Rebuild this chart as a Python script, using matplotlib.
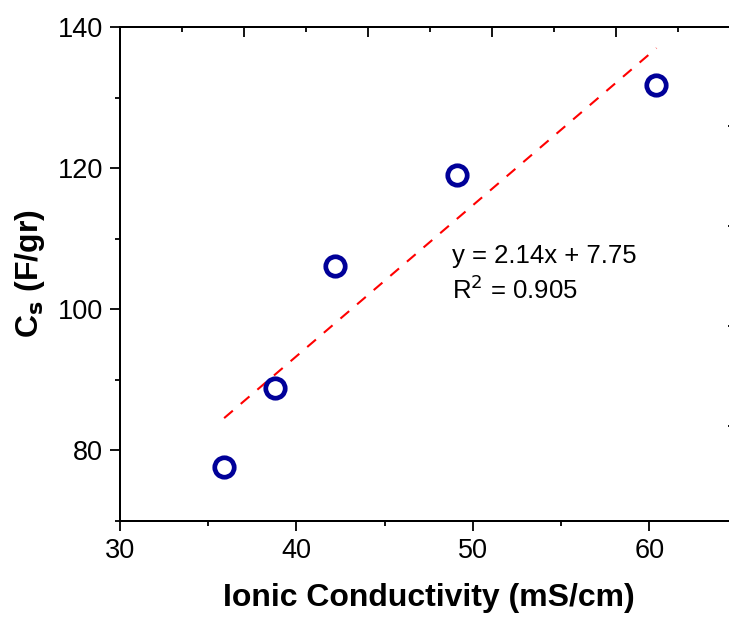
import numpy as np
import matplotlib
matplotlib.use('Agg')
from matplotlib import pyplot as plt
from matplotlib.ticker import MultipleLocator

plt.rcParams['font.family'] = ['Liberation Sans', 'DejaVu Sans']

# data
conductivity = [35.9, 38.8, 42.2, 49.1, 60.4]
capacitance = [77.6, 88.8, 106.2, 119.0, 131.8]
slope = 2.14
intercept = 7.75
r2 = 0.905

fig = plt.figure(figsize=(7.29, 6.2), dpi=100)
ax = fig.add_axes([0.1646, 0.1597, 0.8473, 0.7968])

# linear fit line
xfit = np.array([min(conductivity), max(conductivity)])
ax.plot(xfit, slope * xfit + intercept, color='#ff0000', lw=1.5,
        dashes=(5.5, 5), zorder=2)

ax.plot(conductivity, capacitance, 'o', ms=14, mfc='none', mec='#000099',
        mew=3.4, zorder=3)

ax.text(0.537, 0.44, 'y = %.2fx + %.2f\nR$^2$ = %.3f' % (slope, intercept, r2),
        transform=ax.transAxes, fontsize=18.5, va='bottom', ha='left',
        linespacing=1.3)

ax.set_xlim(30, 65)
ax.set_ylim(70, 140)
ax.xaxis.set_major_locator(MultipleLocator(10))
ax.xaxis.set_minor_locator(MultipleLocator(5))
ax.yaxis.set_major_locator(MultipleLocator(20))
ax.yaxis.set_minor_locator(MultipleLocator(10))
ax.tick_params(which='major', direction='out', length=7, width=1.3,
               labelsize=19.5, pad=5, top=False, right=False)
ax.tick_params(which='minor', direction='out', length=3.5, width=1.3,
               top=False, right=False)
for s in ax.spines.values():
    s.set_linewidth(1.3)

ax.set_xlabel('Ionic Conductivity (mS/cm)', fontsize=23, fontweight='bold',
              labelpad=14)
ax.set_ylabel('C$_\\mathbf{s}$ (F/gr)', fontsize=23, fontweight='bold',
              labelpad=8)

# stray inward ticks on top/right frame
top = ax.twiny()
top.set_xlim(0, 4.98)
top.xaxis.set_major_locator(MultipleLocator(1))
top.xaxis.set_minor_locator(MultipleLocator(0.5))
top.tick_params(which='major', direction='in', length=7, width=1.3,
                labeltop=False)
top.tick_params(which='minor', direction='in', length=3.5, width=1.3)
right = ax.twinx()
right.set_ylim(0, 4.94)
right.set_yticks([0.95, 1.95, 2.95, 3.95])
right.tick_params(direction='in', length=7, width=1.3, labelright=False)
for a in (top, right):
    for s in a.spines.values():
        s.set_linewidth(1.3)

fig.savefig('out.png', dpi=100)
